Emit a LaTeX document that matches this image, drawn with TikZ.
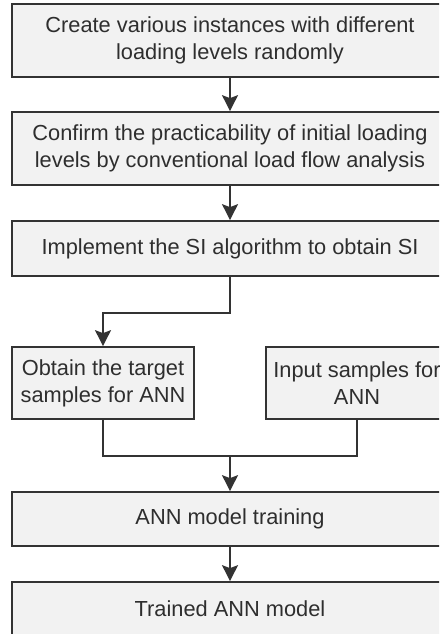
\documentclass[tikz,border=0pt]{standalone}
\usepackage{fontspec}
\setmainfont{Liberation Sans}
\usetikzlibrary{arrows.meta,positioning,calc}
\definecolor{flowFill}{HTML}{F2F2F2}
\definecolor{flowLine}{HTML}{333333}
\definecolor{flowText}{HTML}{2E2E2E}

\begin{document}
\begin{tikzpicture}[x=1pt,y=-1pt,font=\fontsize{21.8}{27}\selectfont,
    stepbox/.style={draw=flowLine,fill=flowFill,line width=1.7pt,text=flowText,
                  minimum width=436pt,minimum height=54pt,align=center,inner sep=0pt},
    halfbox/.style={stepbox,minimum width=182pt,minimum height=72pt},
    link/.style={flowLine,line width=1.7pt},
    arr/.style={link,-{Stealth[length=16pt,width=16pt,inset=3pt]}}]
  \useasboundingbox (0,0) rectangle (439,634);
  \clip (0,0) rectangle (439,634);
  \node[stepbox,minimum height=73pt] (create)  at (230,40.5) {Create various instances with different\\loading levels randomly};
  \node[stepbox,minimum height=73pt] (confirm) at (230,148.5) {Confirm the practicability of initial loading\\levels by conventional load flow analysis};
  \node[stepbox,minimum height=55pt] (implement) at (230,248.5) {Implement the SI algorithm to obtain SI};
  \node[halfbox] (target) at (103,383) {Obtain the target\\samples for ANN};
  \node[halfbox] (input)  at (357,383) {Input samples for\\ANN};
  \node[stepbox] (train)   at (230,519) {ANN model training};
  \node[stepbox] (trained) at (230,609) {Trained ANN model};
  \coordinate (join) at (230,456);
  \draw[arr] (create) -- (confirm);
  \draw[arr] (confirm) -- (implement);
  \draw[arr] (implement.south) -- ++(0,36) -| (target.north);
  \draw[link] (target.south) |- (join) -| (input.south);
  \draw[arr] (join) -- (train.north);
  \draw[arr] (train) -- (trained);
\end{tikzpicture}
\end{document}
